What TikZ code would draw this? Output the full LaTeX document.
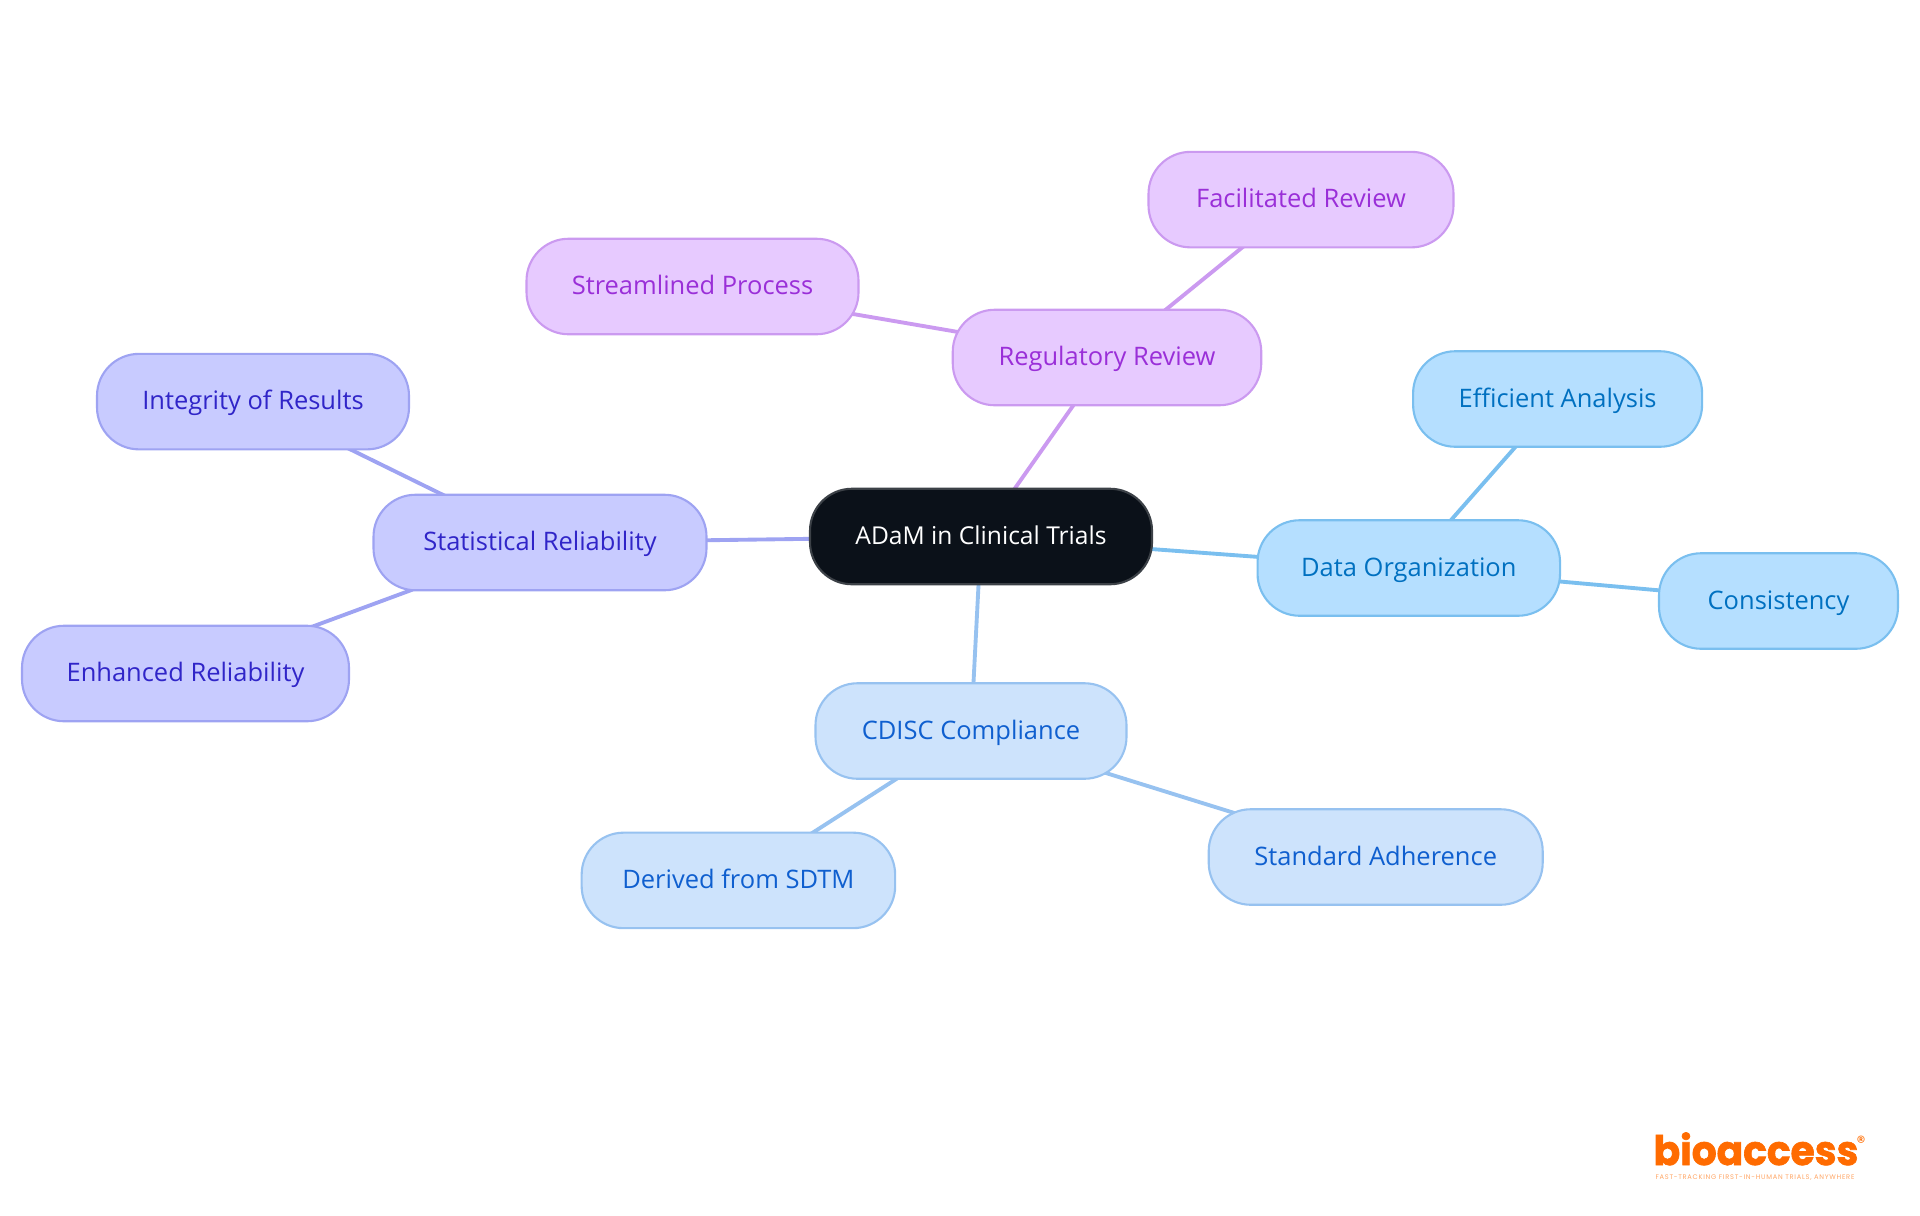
\documentclass[tikz,border=0pt]{standalone}
\usepackage{fontspec}
\setmainfont{Open Sans}
\newfontfamily\logofont[BoldFeatures={FakeBold=1.6,FakeStretch=0.96}]{Poppins}
\newfontfamily\tagfont[LetterSpace=11]{Poppins}
\usetikzlibrary{backgrounds}
\definecolor{rootfill}{HTML}{0B1119}
\definecolor{rootedge}{HTML}{3C4147}
\definecolor{skyfill}{HTML}{B5DFFF}
\definecolor{skyedge}{HTML}{7ABFEF}
\definecolor{skytext}{HTML}{0070C0}
\definecolor{lilacfill}{HTML}{E7CAFF}
\definecolor{lilacedge}{HTML}{CB9AF0}
\definecolor{lilactext}{HTML}{9A2FD8}
\definecolor{indigofill}{HTML}{C8CBFF}
\definecolor{indigoedge}{HTML}{9EA3F2}
\definecolor{indigotext}{HTML}{3025C8}
\definecolor{palefill}{HTML}{CDE3FC}
\definecolor{paleedge}{HTML}{97C2F0}
\definecolor{paletext}{HTML}{0F5FCF}
\definecolor{logoorange}{HTML}{FF6B00}
\tikzset{
  pill/.style={rounded corners=0.42cm,line width=0.6pt,minimum height=0.955cm,inner sep=0pt,text height=0.21cm,text depth=0.05cm,font=\fontsize{7.25}{8}\selectfont},
  adambox/.style={pill,fill=rootfill,draw=rootedge,text=white,font=\fontsize{7}{8}\selectfont},
  skybox/.style={pill,fill=skyfill,draw=skyedge,text=skytext},
  lilacbox/.style={pill,fill=lilacfill,draw=lilacedge,text=lilactext},
  indigobox/.style={pill,fill=indigofill,draw=indigoedge,text=indigotext},
  palebox/.style={pill,fill=palefill,draw=paleedge,text=paletext},
  link/.style={line width=1.1pt}
}
\begin{document}
\begin{tikzpicture}
  \useasboundingbox (0,0) rectangle (19.2,-12.15);
  \node[adambox,minimum width=3.42cm] (adam) at (9.81,-5.365) {ADaM in Clinical Trials};
  % lilac branch
  \node[lilacbox,minimum width=3.085cm] (regreview) at (11.07,-3.575) {Regulatory Review};
  \node[lilacbox,minimum width=3.05cm] (facilitated) at (13.01,-1.996) {Facilitated Review};
  \node[lilacbox,minimum width=3.32cm] (streamlined) at (6.925,-2.865) {Streamlined Process};
  % indigo branch
  \node[indigobox,minimum width=3.33cm] (statrel) at (5.40,-5.425) {Statistical Reliability};
  \node[indigobox,minimum width=3.12cm] (integrity) at (2.53,-4.016) {Integrity of Results};
  \node[indigobox,minimum width=3.27cm] (enhanced) at (1.855,-6.735) {Enhanced Reliability};
  % sky branch
  \node[skybox,minimum width=3.025cm] (dataorg) at (14.088,-5.68) {Data Organization};
  \node[skybox,minimum width=2.89cm] (efficient) at (15.576,-3.99) {Efficient Analysis};
  \node[skybox,minimum width=2.39cm] (consistency) at (17.785,-6.01) {Consistency};
  % pale branch
  \node[palebox,minimum width=3.11cm] (cdisc) at (9.71,-7.31) {CDISC Compliance};
  \node[palebox,minimum width=3.135cm] (derived) at (7.384,-8.804) {Derived from SDTM};
  \node[palebox,minimum width=3.34cm] (standard) at (13.757,-8.57) {Standard Adherence};
  \begin{scope}[on background layer]
    \draw[link,lilacedge] (adam.center) -- (regreview.center);
    \draw[link,lilacedge] (regreview.center) -- (facilitated.center);
    \draw[link,lilacedge] (regreview.center) -- (streamlined.center);
    \draw[link,indigoedge] (adam.center) -- (statrel.center);
    \draw[link,indigoedge] (statrel.center) -- (integrity.center);
    \draw[link,indigoedge] (statrel.center) -- (enhanced.center);
    \draw[link,skyedge] (adam.center) -- (dataorg.center);
    \draw[link,skyedge] (dataorg.center) -- (efficient.center);
    \draw[link,skyedge] (dataorg.center) -- (consistency.center);
    \draw[link,paleedge] (adam.center) -- (cdisc.center);
    \draw[link,paleedge] (cdisc.center) -- (derived.center);
    \draw[link,paleedge] (cdisc.center) -- (standard.center);
  \end{scope}
  % logo
  \node[anchor=base,inner sep=0pt,text depth=0pt,text=logoorange,font=\logofont\bfseries\fontsize{11.6}{12}\selectfont] (logoword) at (17.56,-11.65) {bioaccess};
  \node[inner sep=0pt,text=logoorange,font=\logofont\fontsize{5}{6}\selectfont] (logoreg) at (18.61,-11.42) {®};
  \node[inner sep=0pt,text=logoorange!60,font=\tagfont\fontsize{1.9}{2}\selectfont] (logotag) at (17.55,-11.78) {FAST-TRACKING FIRST-IN-HUMAN TRIALS, ANYWHERE};
\end{tikzpicture}
\end{document}
